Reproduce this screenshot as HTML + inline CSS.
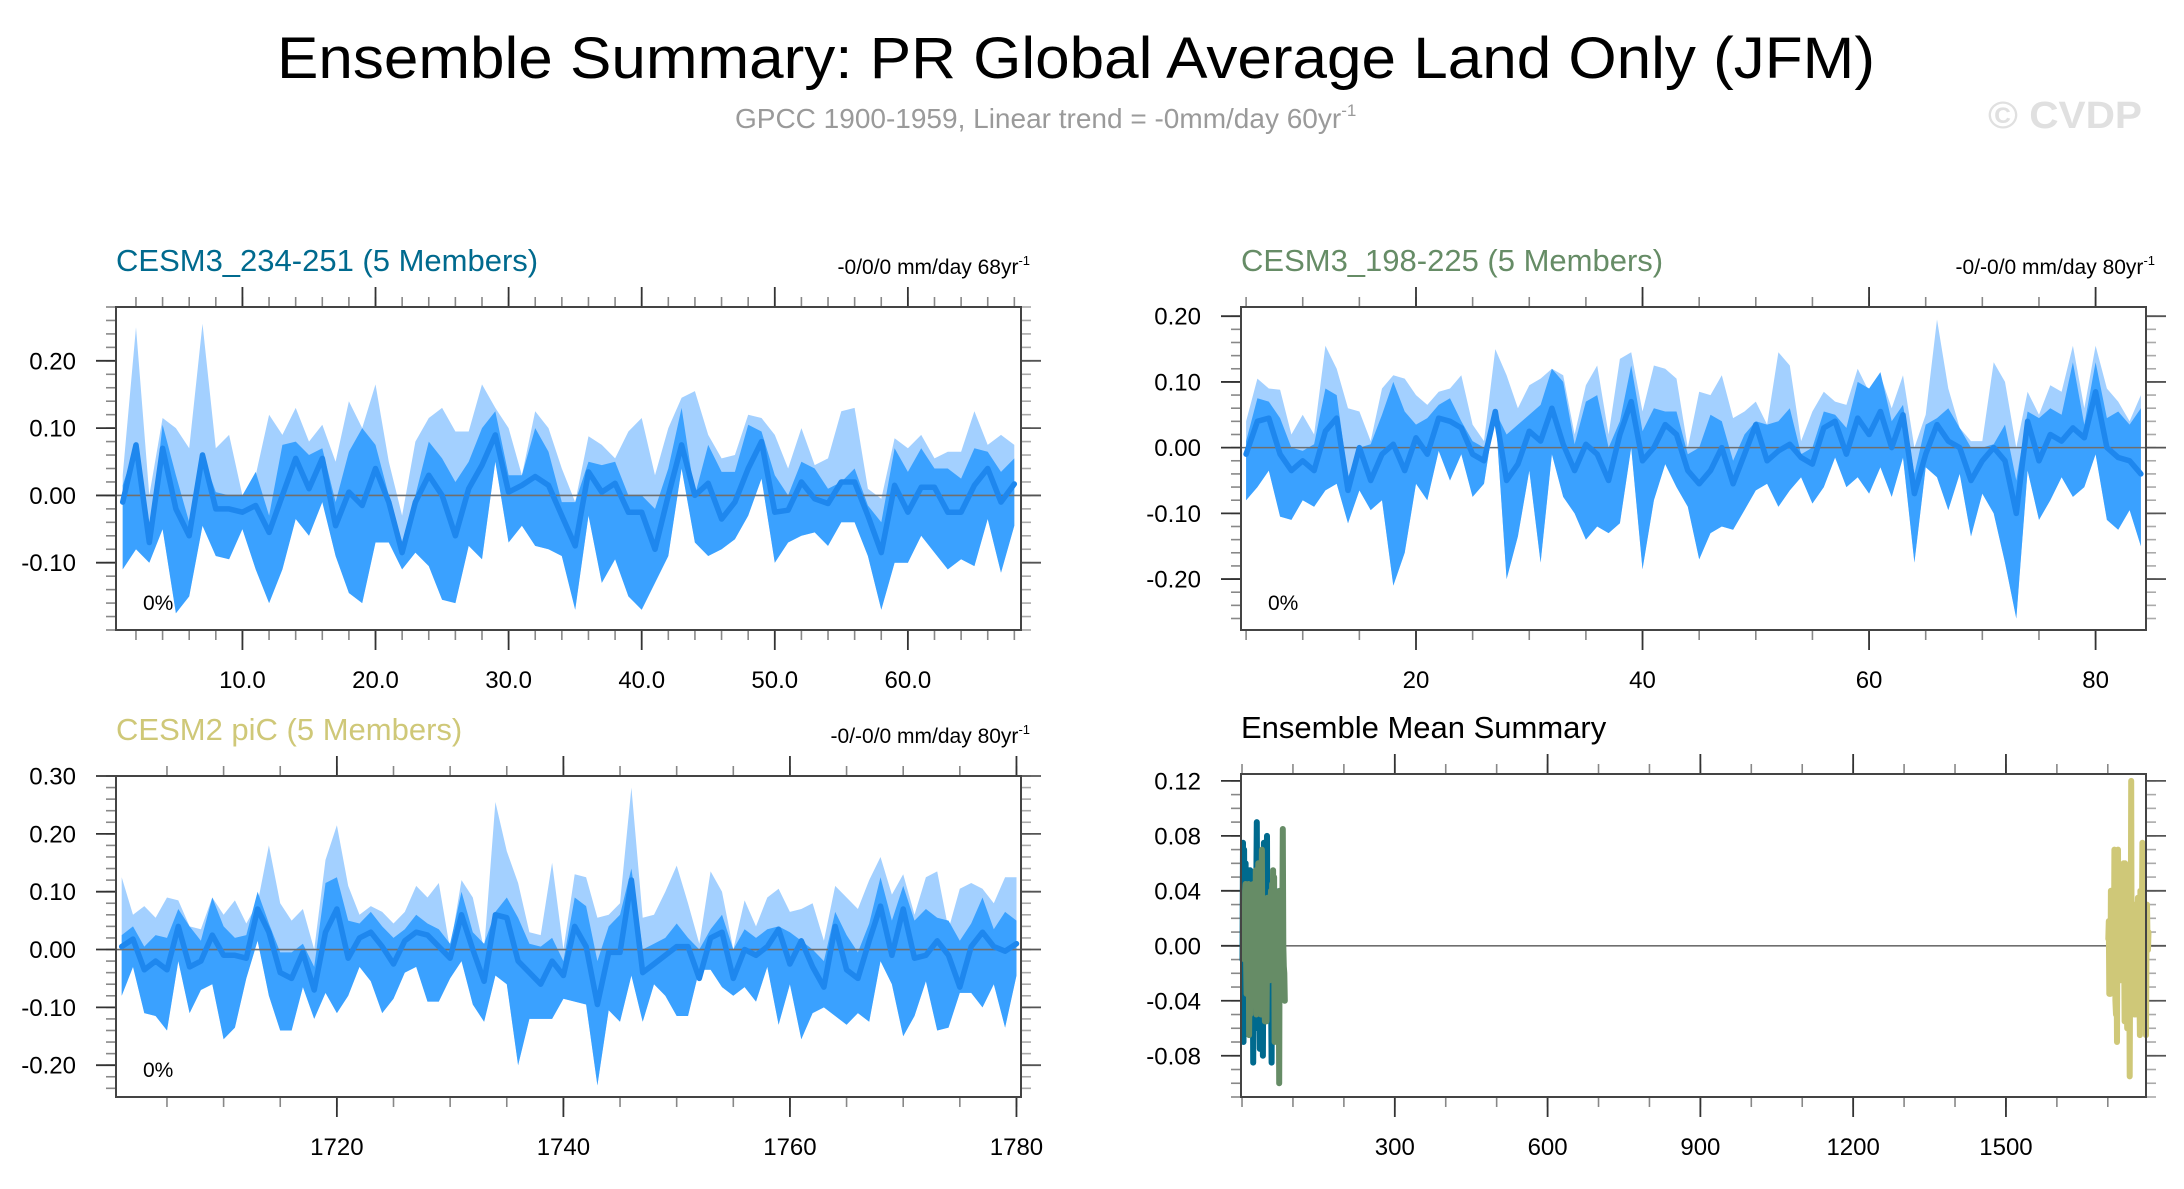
<!DOCTYPE html>
<html><head><meta charset="utf-8"><style>
html,body{margin:0;padding:0;background:#fff;}
svg{display:block;font-family:"Liberation Sans",Arial,sans-serif;}
</style></head><body>
<svg id="chart" width="2184" height="1189" viewBox="0 0 2184 1189" xmlns="http://www.w3.org/2000/svg">
<text x="1076" y="78" font-size="58" text-anchor="middle" textLength="1598" lengthAdjust="spacingAndGlyphs" fill="#000">Ensemble Summary: PR Global Average Land Only (JFM)</text>
<text x="735" y="128" font-size="28" fill="#9a9a9a">GPCC 1900-1959, Linear trend = -0mm/day 60yr<tspan font-size="17" dy="-12">-1</tspan></text>
<text x="1988" y="128" font-size="38" font-weight="bold" fill="#e0e0e0" textLength="154" lengthAdjust="spacingAndGlyphs">© CVDP</text>
<g id="panels"></g>
</svg>
<script>
// ---- Panel 1: CESM3_234-251 ----
const p1Years = [];
for (let i = 1; i <= 68; i++) p1Years.push(i);
const p1Mean = [-0.01,0.075,-0.07,0.07,-0.02,-0.06,0.06,-0.02,-0.02,-0.025,-0.015,-0.055,0.0,0.055,0.01,0.055,-0.045,0.005,-0.015,0.04,-0.01,-0.085,-0.01,0.03,0.0,-0.06,0.01,0.045,0.09,0.005,0.015,0.028,0.015,-0.03,-0.075,0.035,0.005,0.018,-0.025,-0.025,-0.08,0.0,0.075,0.0,0.018,-0.035,-0.01,0.04,0.08,-0.025,-0.022,0.02,-0.005,-0.012,0.02,0.02,-0.03,-0.085,0.015,-0.025,0.012,0.012,-0.025,-0.025,0.015,0.04,-0.01,0.017];
const p1Hi = [0.03,0.25,0.0,0.115,0.1,0.07,0.255,0.07,0.09,0.0,0.03,0.12,0.09,0.13,0.08,0.105,0.05,0.14,0.1,0.165,0.05,-0.03,0.08,0.115,0.13,0.095,0.095,0.165,0.13,0.1,0.03,0.125,0.1,0.04,-0.01,0.088,0.075,0.055,0.095,0.115,0.03,0.1,0.145,0.155,0.09,0.055,0.06,0.12,0.115,0.09,0.04,0.1,0.045,0.055,0.125,0.13,0.01,-0.005,0.085,0.07,0.09,0.055,0.065,0.065,0.125,0.075,0.09,0.075];
const p1HiIn = [0.015,0.075,-0.07,0.105,0.03,-0.04,0.06,0.005,0.0,0.0,0.035,-0.03,0.075,0.08,0.06,0.07,-0.01,0.065,0.1,0.075,0.0,-0.07,0.0,0.08,0.055,0.02,0.05,0.1,0.125,0.03,0.03,0.1,0.065,-0.01,-0.01,0.05,0.045,0.05,0.0,0.0,-0.02,0.04,0.13,0.0,0.075,0.035,0.035,0.105,0.095,0.03,0.0,0.05,0.04,0.01,0.02,0.04,-0.015,-0.04,0.07,0.035,0.07,0.04,0.04,0.025,0.07,0.065,0.035,0.055];
const p1Lo = [-0.11,-0.08,-0.1,-0.05,-0.175,-0.15,-0.045,-0.09,-0.095,-0.05,-0.11,-0.16,-0.11,-0.035,-0.06,-0.01,-0.09,-0.145,-0.16,-0.07,-0.07,-0.11,-0.085,-0.105,-0.155,-0.16,-0.075,-0.095,0.05,-0.07,-0.045,-0.075,-0.08,-0.09,-0.17,-0.03,-0.13,-0.095,-0.15,-0.17,-0.13,-0.09,0.04,-0.07,-0.09,-0.08,-0.065,-0.03,0.025,-0.1,-0.07,-0.06,-0.055,-0.075,-0.04,-0.04,-0.09,-0.17,-0.1,-0.1,-0.06,-0.085,-0.11,-0.095,-0.105,-0.035,-0.115,-0.045];
const p1XTicks = [10,20,30,40,50,60];
const p1XTickLabels = ["10.0","20.0","30.0","40.0","50.0","60.0"];
const p1YTicks = [-0.1,0,0.1,0.2];
const p1YTickLabels = ["-0.10","0.00","0.10","0.20"];

// ---- Panel 2: CESM3_198-225 ----
const p2Years = [];
for (let i = 5; i <= 84; i++) p2Years.push(i);
const p2Mean = [-0.01,0.04,0.045,-0.01,-0.035,-0.02,-0.035,0.025,0.045,-0.065,0.0,-0.05,-0.01,0.005,-0.035,0.015,-0.01,0.045,0.04,0.03,-0.01,-0.02,0.055,-0.05,-0.025,0.025,0.01,0.06,0.005,-0.035,0.005,-0.01,-0.05,0.02,0.07,-0.02,0.0,0.035,0.02,-0.035,-0.055,-0.035,0.0,-0.055,-0.01,0.035,-0.02,-0.005,0.005,-0.015,-0.025,0.03,0.04,-0.01,0.045,0.02,0.055,0.0,0.05,-0.07,-0.01,0.035,0.01,0.0,-0.05,-0.02,0.0,-0.02,-0.1,0.04,-0.02,0.02,0.01,0.03,0.015,0.085,0.0,-0.015,-0.02,-0.04];
const p2Hi = [0.04,0.105,0.09,0.088,0.02,0.05,0.02,0.155,0.12,0.06,0.055,0.01,0.09,0.11,0.105,0.08,0.065,0.085,0.09,0.11,0.035,0.01,0.15,0.11,0.06,0.095,0.105,0.12,0.11,0.02,0.095,0.125,0.02,0.135,0.145,0.055,0.125,0.12,0.105,0.0,0.085,0.08,0.11,0.045,0.055,0.07,0.035,0.145,0.125,0.01,0.055,0.085,0.07,0.065,0.12,0.085,0.11,0.06,0.11,0.0,0.05,0.195,0.09,0.03,0.01,0.01,0.13,0.1,0.0,0.085,0.05,0.095,0.085,0.155,0.06,0.155,0.09,0.07,0.04,0.08];
const p2HiIn = [0.01,0.075,0.07,0.045,0.0,-0.005,0.005,0.09,0.08,-0.045,0.0,0.005,0.05,0.1,0.055,0.035,0.045,0.065,0.075,0.04,0.01,0.0,0.055,0.02,0.035,0.05,0.065,0.12,0.1,0.005,0.07,0.08,0.0,0.04,0.125,0.025,0.06,0.055,0.055,-0.01,0.0,0.05,0.04,-0.02,0.02,0.04,0.035,0.04,0.06,-0.01,0.0,0.055,0.05,0.03,0.1,0.09,0.115,0.04,0.065,-0.04,0.035,0.045,0.06,0.03,0.0,0.0,0.005,0.035,-0.05,0.055,0.045,0.06,0.05,0.13,0.035,0.13,0.045,0.055,0.035,0.06];
const p2Lo = [-0.08,-0.06,-0.035,-0.105,-0.11,-0.08,-0.09,-0.065,-0.055,-0.115,-0.065,-0.095,-0.08,-0.21,-0.16,-0.055,-0.08,-0.005,-0.05,-0.01,-0.075,-0.055,0.055,-0.2,-0.135,-0.035,-0.175,-0.01,-0.075,-0.1,-0.14,-0.12,-0.13,-0.115,0.0,-0.185,-0.08,-0.025,-0.06,-0.09,-0.17,-0.13,-0.12,-0.125,-0.095,-0.065,-0.055,-0.09,-0.065,-0.045,-0.085,-0.06,-0.015,-0.06,-0.045,-0.07,-0.03,-0.075,-0.015,-0.175,-0.03,-0.045,-0.095,-0.04,-0.135,-0.07,-0.1,-0.175,-0.26,-0.035,-0.11,-0.08,-0.045,-0.075,-0.06,-0.01,-0.11,-0.125,-0.095,-0.15];
const p2XTicks = [20,40,60,80];
const p2XTickLabels = ["20","40","60","80"];
const p2YTicks = [-0.2,-0.1,0,0.1,0.2];
const p2YTickLabels = ["-0.20","-0.10","0.00","0.10","0.20"];

// ---- Panel 3: CESM2 piC ----
const p3Years = [];
for (let i = 1701; i <= 1780; i++) p3Years.push(i);
const p3Mean = [0.005,0.018,-0.035,-0.02,-0.035,0.04,-0.03,-0.02,0.025,-0.01,-0.01,-0.015,0.07,0.03,-0.04,-0.05,-0.005,-0.07,0.03,0.07,-0.015,0.02,0.03,0.005,-0.025,0.015,0.03,0.025,0.005,-0.015,0.06,0.0,-0.055,0.06,0.055,-0.02,-0.04,-0.06,-0.02,-0.045,0.04,0.005,-0.095,-0.005,-0.005,0.12,-0.04,-0.025,-0.01,0.005,0.005,-0.05,0.02,0.03,-0.05,0.0,-0.01,0.005,0.035,-0.025,0.015,-0.03,-0.065,0.04,-0.035,-0.05,0.015,0.075,-0.01,0.07,-0.015,-0.01,0.015,-0.01,-0.065,0.005,0.03,0.005,-0.003,0.01];
const p3Hi = [0.125,0.06,0.075,0.055,0.09,0.085,0.04,0.035,0.09,0.06,0.085,0.045,0.08,0.18,0.08,0.05,0.07,0.0,0.155,0.215,0.11,0.06,0.075,0.065,0.045,0.065,0.11,0.09,0.115,0.0,0.12,0.09,0.0,0.255,0.17,0.115,0.03,0.025,0.15,0.0,0.13,0.125,0.055,0.06,0.08,0.28,0.055,0.06,0.1,0.145,0.08,0.01,0.135,0.1,0.0,0.085,0.04,0.09,0.105,0.065,0.07,0.08,0.015,0.11,0.09,0.07,0.12,0.16,0.095,0.13,0.06,0.125,0.135,0.035,0.105,0.115,0.105,0.08,0.125,0.125];
const p3HiIn = [0.025,0.04,0.005,0.025,0.02,0.07,0.04,0.015,0.09,0.04,0.02,0.025,0.1,0.045,-0.005,-0.005,0.01,-0.03,0.115,0.125,0.05,0.045,0.065,0.04,0.02,0.035,0.06,0.045,0.035,0.01,0.1,0.03,0.01,0.065,0.09,0.055,0.01,0.005,0.02,-0.02,0.09,0.075,-0.02,0.04,0.06,0.14,0.0,0.01,0.02,0.045,0.02,0.0,0.035,0.06,0.0,0.035,0.02,0.035,0.04,0.03,0.015,0.0,-0.02,0.065,0.025,-0.005,0.045,0.125,0.05,0.11,0.05,0.07,0.055,0.05,0.015,0.045,0.09,0.035,0.065,0.05];
const p3Lo = [-0.08,-0.03,-0.11,-0.115,-0.14,-0.02,-0.11,-0.07,-0.06,-0.155,-0.135,-0.05,0.015,-0.08,-0.14,-0.14,-0.065,-0.12,-0.075,-0.11,-0.08,-0.03,-0.055,-0.11,-0.085,-0.04,-0.03,-0.09,-0.09,-0.05,-0.02,-0.095,-0.125,-0.045,-0.06,-0.2,-0.12,-0.12,-0.12,-0.085,-0.09,-0.095,-0.235,-0.105,-0.125,-0.045,-0.125,-0.06,-0.08,-0.115,-0.115,-0.035,-0.035,-0.065,-0.08,-0.065,-0.09,-0.03,-0.13,-0.06,-0.155,-0.11,-0.1,-0.115,-0.13,-0.11,-0.125,-0.02,-0.06,-0.15,-0.115,-0.055,-0.14,-0.135,-0.075,-0.075,-0.1,-0.06,-0.135,-0.045];
const p3XTicks = [1720,1740,1760,1780];
const p3XTickLabels = ["1720","1740","1760","1780"];
const p3YTicks = [-0.2,-0.1,0,0.1,0.2,0.3];
const p3YTickLabels = ["-0.20","-0.10","0.00","0.10","0.20","0.30"];

// ---- Panel 4: Ensemble mean summary ----
const p4XTicks = [300,600,900,1200,1500];
const p4XTickLabels = ["300","600","900","1200","1500"];
const p4YTicks = [-0.08,-0.04,0,0.04,0.08,0.12];
const p4YTickLabels = ["-0.08","-0.04","0.00","0.04","0.08","0.12"];

const NS = "http://www.w3.org/2000/svg";
const root = document.getElementById("panels");
function mk(tag, attrs, parent) {
  const e = document.createElementNS(NS, tag);
  for (const k in attrs) e.setAttribute(k, attrs[k]);
  (parent || root).appendChild(e);
  return e;
}

function drawFrame(cfg) {
  const g = mk("g", {});
  
  
  const sx = v => cfg.L + (v - cfg.x0) / (cfg.x1 - cfg.x0) * (cfg.R - cfg.L);
  const sy = v => cfg.B - (v - cfg.y0) / (cfg.y1 - cfg.y0) * (cfg.B - cfg.T);
  cfg.sx = sx; cfg.sy = sy; cfg.g = g;
  const eps = 1e-9;
  for (let v = Math.ceil(cfg.x0 / cfg.xMinor - eps) * cfg.xMinor; v <= cfg.x1 + eps; v += cfg.xMinor) {
    const x = sx(v);
    const t1 = mk("line", {x1:x, x2:x, y1:cfg.T, y2:cfg.T-10, stroke:"#888", "stroke-width":1.6}, g);
    
    
    const t2 = mk("line", {x1:x, x2:x, y1:cfg.B, y2:cfg.B+10, stroke:"#888", "stroke-width":1.6}, g);
    
    
  }
  for (let v = Math.ceil(cfg.y0 / cfg.yMinor - eps) * cfg.yMinor; v <= cfg.y1 + eps; v += cfg.yMinor) {
    const y = sy(v);
    const t1 = mk("line", {x1:cfg.L, x2:cfg.L-10, y1:y, y2:y, stroke:"#888", "stroke-width":1.6}, g);
    
    
    const t2 = mk("line", {x1:cfg.R, x2:cfg.R+10, y1:y, y2:y, stroke:"#aaa", "stroke-width":1.6}, g);
    
    
  }
  cfg.xTicks.forEach((v, i) => {
    const x = sx(v);
    const a = mk("line", {x1:x, x2:x, y1:cfg.T, y2:cfg.T-20, stroke:"#333", "stroke-width":1.8}, g);
    
    
    const b = mk("line", {x1:x, x2:x, y1:cfg.B, y2:cfg.B+20, stroke:"#333", "stroke-width":1.8}, g);
    
    
    const t = mk("text", {x:x, y:cfg.B+58, "font-size":24, "text-anchor":"middle", fill:"#000"}, g);
    
    
    t.textContent = cfg.xLabels[i];
  });
  cfg.yTicks.forEach((v, i) => {
    const y = sy(v);
    const a = mk("line", {x1:cfg.L, x2:cfg.L-20, y1:y, y2:y, stroke:"#333", "stroke-width":1.8}, g);
    
    
    const b = mk("line", {x1:cfg.R, x2:cfg.R+20, y1:y, y2:y, stroke:"#555", "stroke-width":1.8}, g);
    
    
    const t = mk("text", {x:cfg.L-40, y:y+8.5, "font-size":24, "text-anchor":"end", fill:"#000"}, g);
    
    
    t.textContent = cfg.yLabels[i];
  });
  const title = mk("text", {x:cfg.L, y:cfg.T-36, "font-size":31, fill:cfg.titleColor}, g);
  
  
  title.textContent = cfg.title;
  if (cfg.trend) {
    const tr = mk("text", {x:cfg.R+9, y:cfg.T-33, "font-size":21, "text-anchor":"end", fill:"#000"}, g);
    
    
    tr.textContent = cfg.trend;
    const sup = mk("tspan", {"font-size":13, dy:-9}, tr);
    sup.textContent = "-1";
  }
}

function pathOf(xs, ys, sx, sy) {
  return xs.map((x, i) => (i ? "L" : "M") + sx(x).toFixed(1) + "," + sy(ys[i]).toFixed(1)).join("");
}
function bandPath(xs, hi, lo, sx, sy) {
  let d = pathOf(xs, hi, sx, sy);
  for (let i = xs.length - 1; i >= 0; i--) d += "L" + sx(xs[i]).toFixed(1) + "," + sy(lo[i]).toFixed(1);
  return d + "Z";
}

function drawBandPanel(cfg, xs, hi, hiIn, lo, mean) {
  drawFrame(cfg);
  const g = cfg.g, sx = cfg.sx, sy = cfg.sy;
  const clipId = "clip-" + cfg.name;
  const cp = mk("clipPath", {id: clipId}, g);
  mk("rect", {x:cfg.L, y:cfg.T, width:cfg.R-cfg.L, height:cfg.B-cfg.T}, cp);
  const pg = mk("g", {"clip-path":"url(#" + clipId + ")"}, g);
  const outer = mk("path", {d: bandPath(xs, hi, lo, sx, sy), fill:"#a3d0ff"}, pg);
  
  
  const inner = mk("path", {d: bandPath(xs, hiIn, lo, sx, sy), fill:"#3aa1ff"}, pg);
  
  
  const zl = mk("line", {x1:cfg.L, x2:cfg.R, y1:sy(0), y2:sy(0), stroke:"#6f6f6f", "stroke-width":1.6}, pg);
  
  
  const ml = mk("path", {d: pathOf(xs, mean, sx, sy), fill:"none", stroke:"#1e87ee", "stroke-width":5.5, "stroke-linejoin":"round", "stroke-linecap":"round"}, g);
  
  
  const pct = mk("text", {x:cfg.L+27, y:cfg.B-20, "font-size":21, fill:"#000"}, g);
  
  
  pct.textContent = "0%";
  const box = mk("rect", {x:cfg.L, y:cfg.T, width:cfg.R-cfg.L, height:cfg.B-cfg.T, fill:"none", stroke:"#444", "stroke-width":2}, g);
  
  
}

drawBandPanel({name:"panel-cesm3-234-251", L:116, R:1021, T:307, B:630, x0:0.5, x1:68.5, y0:-0.2, y1:0.28,
  xMinor:2, yMinor:0.02, xTicks:p1XTicks, xLabels:p1XTickLabels, yTicks:p1YTicks, yLabels:p1YTickLabels,
  title:"CESM3_234-251 (5 Members)", titleColor:"#006a8e", trend:"-0/0/0 mm/day 68yr"},
  p1Years, p1Hi, p1HiIn, p1Lo, p1Mean);

drawBandPanel({name:"panel-cesm3-198-225", L:1241, R:2146, T:307, B:630, x0:4.55, x1:84.45, y0:-0.2775, y1:0.214,
  xMinor:5, yMinor:0.02, xTicks:p2XTicks, xLabels:p2XTickLabels, yTicks:p2YTicks, yLabels:p2YTickLabels,
  title:"CESM3_198-225 (5 Members)", titleColor:"#668c66", trend:"-0/-0/0 mm/day 80yr"},
  p2Years, p2Hi, p2HiIn, p2Lo, p2Mean);

drawBandPanel({name:"panel-cesm2-pic", L:116, R:1021, T:776, B:1097, x0:1700.5, x1:1780.4, y0:-0.255, y1:0.30,
  xMinor:5, yMinor:0.02, xTicks:p3XTicks, xLabels:p3XTickLabels, yTicks:p3YTicks, yLabels:p3YTickLabels,
  title:"CESM2 piC (5 Members)", titleColor:"#cfc878", trend:"-0/-0/0 mm/day 80yr"},
  p3Years, p3Hi, p3HiIn, p3Lo, p3Mean);

(function(){
  const cfg = {name:"panel-ensemble-mean-summary", L:1241, R:2146, T:774, B:1097, x0:-2, x1:1775, y0:-0.11, y1:0.125,
    xMinor:100, yMinor:0.01, xTicks:p4XTicks, xLabels:p4XTickLabels, yTicks:p4YTicks, yLabels:p4YTickLabels,
    title:"Ensemble Mean Summary", titleColor:"#000"};
  drawFrame(cfg);
  const g = cfg.g, sx = cfg.sx, sy = cfg.sy;
  const zl = mk("line", {x1:cfg.L, x2:cfg.R, y1:sy(0), y2:sy(0), stroke:"#6f6f6f", "stroke-width":1.6}, g);
  
  
  const series = [[p1Years, p1Mean, "#006a8e", "mean-line-cesm3-234-251"], [p2Years, p2Mean, "#668c66", "mean-line-cesm3-198-225"], [p3Years, p3Mean, "#cfc878", "mean-line-cesm2-pic"]];
  series.forEach(s => {
    const p = mk("path", {d: pathOf(s[0], s[1], sx, sy), fill:"none", stroke:s[2], "stroke-width":6, "stroke-linejoin":"round", "stroke-linecap":"round"}, g);
    
    
  });
  const box = mk("rect", {x:cfg.L, y:cfg.T, width:cfg.R-cfg.L, height:cfg.B-cfg.T, fill:"none", stroke:"#444", "stroke-width":2}, g);
  
  
})();
</script>
</body></html>
